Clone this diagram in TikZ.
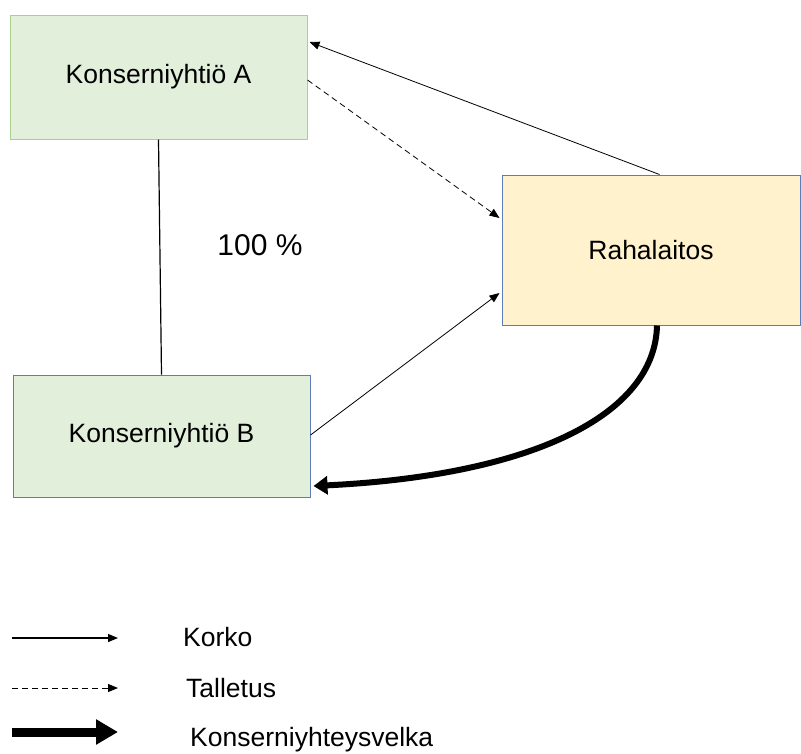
\documentclass[tikz,border=0pt]{standalone}
\usepackage{fontspec}
\setmainfont{Liberation Sans}
\usetikzlibrary{arrows.meta,calc}
\definecolor{greenfill}{HTML}{E2EFDA}
\definecolor{greenline}{HTML}{A9D18E}
\definecolor{yellowfill}{HTML}{FFF2CC}
\definecolor{blueline}{HTML}{5B7DB8}
\tikzset{
  box/.style={draw, line width=1pt, inner sep=0pt, font=\fontsize{26.5}{30}\selectfont},
  thinarrow/.style={line width=0.8pt, -{Triangle[length=10pt,width=8pt]}},
  thickarrow/.style={line width=6pt, -{Triangle[length=14pt,width=18pt]}},
  lbl/.style={anchor=west, inner sep=0pt, font=\fontsize{26.5}{30}\selectfont},
}
\begin{document}
\begin{tikzpicture}[x=1pt,y=-1pt]
\useasboundingbox (0,0) rectangle (801,753);
\node[box, fill=greenfill, draw=greenline, minimum width=297pt, minimum height=124pt] (A) at (158.5,77) {Konserniyhtiö A};
\node[box, fill=greenfill, draw=blueline, minimum width=297pt, minimum height=122pt] (B) at (161.5,436) {Konserniyhtiö B};
\node[box, fill=yellowfill, draw=blueline, minimum width=298pt, minimum height=150pt] (R) at (651,250) {Rahalaitos};
\node[font=\fontsize{30}{34}\selectfont] (p) at (260,245) {100 \%};
\draw[line width=1.2pt] (A.south) -- (B.north);
\draw[thinarrow] ($(R.north west)+(158,0)$) -- ($(A.east)+(2,-35)$);
\draw[thinarrow, dashed, dash pattern=on 6pt off 4pt] ($(A.east)+(0,3)$) -- ($(R.west)+(-2,-32)$);
\draw[thinarrow] ($(B.east)+(0,-1)$) -- ($(R.west)+(-2,43)$);
\draw[thickarrow] ($(R.south)+(6,0)$) .. controls ($(R.south)+(4,90)$) and ($(R.south)+(-120,150)$) .. ($(B.east)+(3,50)$);
% legend
\coordinate (l1a) at (12,638); \coordinate (l1b) at (118,638);
\coordinate (l2a) at (12,688); \coordinate (l2b) at (118,688);
\coordinate (l3a) at (12,732); \coordinate (l3b) at (118,732);
\draw[line width=1.2pt, -{Triangle[length=10pt,width=8pt]}] (l1a) -- (l1b);
\draw[line width=1pt, dash pattern=on 6pt off 4pt, -{Triangle[length=10pt,width=8pt]}] (l2a) -- (l2b);
\draw[line width=9pt, -{Triangle[length=22pt,width=24pt]}] (l3a) -- (l3b);
\node[lbl] (k1) at (183,637) {Korko};
\node[lbl] (k2) at (186,688) {Talletus};
\node[lbl] (k3) at (190,740) {Konserniyhteysvelka};
\end{tikzpicture}
\end{document}
